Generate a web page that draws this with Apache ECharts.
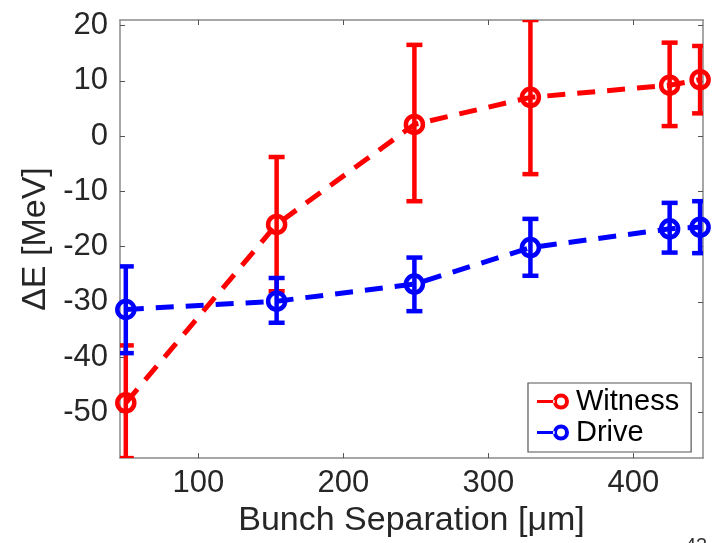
<!DOCTYPE html>
<html>
<head>
<meta charset="utf-8">
<script src="https://cdn.jsdelivr.net/npm/echarts@6/dist/echarts.min.js"></script>
<style>
html,body{margin:0;padding:0;background:#fff;}
#chart{width:713px;height:543px;}
</style>
</head>
<body>
<div id="chart"></div>
<script>
// Data
var separation = [50, 154, 249, 329, 425, 446];
var witness = [-48.3, -16.0, 2.1, 7.0, 9.2, 10.2];
var witnessLow = [-58.3, -28.1, -11.8, -6.9, 1.8, 4.1];
var witnessHigh = [-37.9, -3.8, 16.5, 21.0, 16.9, 16.3];
var drive = [-31.4, -29.9, -26.8, -20.2, -16.8, -16.5];
var driveLow = [-39.3, -33.8, -31.7, -25.3, -21.1, -21.2];
var driveHigh = [-23.6, -25.7, -22.0, -15.0, -12.1, -11.8];
var xTicks = [100, 200, 300, 400];
var yTicks = [-50, -40, -30, -20, -10, 0, 10, 20];

var FONT = '"Liberation Sans", Arial, Helvetica, sans-serif';
var TXT = '#262626';
var AX = '#8a8a8a';
var RED = '#ff0000';
var BLUE = '#0000ff';

function pairs(xs, ys) { return xs.map(function (x, i) { return [x, ys[i]]; }); }
function errData(xs, lo, hi) { return xs.map(function (x, i) { return [x, lo[i], hi[i]]; }); }

function errorRender(color) {
  return function (params, api) {
    var x = api.value(0);
    var lo = api.coord([x, api.value(1)]);
    var hi = api.coord([x, api.value(2)]);
    var hw = 8;
    var st = { stroke: color, lineWidth: 4.5 };
    return {
      type: 'group',
      children: [
        { type: 'line', shape: { x1: lo[0], y1: lo[1], x2: hi[0], y2: hi[1] }, style: st },
        { type: 'line', shape: { x1: lo[0] - hw, y1: lo[1], x2: lo[0] + hw, y2: lo[1] }, style: st },
        { type: 'line', shape: { x1: hi[0] - hw, y1: hi[1], x2: hi[0] + hw, y2: hi[1] }, style: st }
      ]
    };
  };
}

var legendIcon = 'path://M0,8.2 L22,8.2 L22,11.8 L0,11.8 Z M20,10 a10,10 0 1,0 20,0 a10,10 0 1,0 -20,0 Z M25,10 a5,5 0 1,1 10,0 a5,5 0 1,1 -10,0 Z';

function axisBase(extra) {
  return Object.assign({
    type: 'value',
    axisLine: { show: true, onZero: false, lineStyle: { color: AX, width: 1.5 } },
    splitLine: { show: false }
  }, extra);
}
function ticks(vals) {
  return { show: true, inside: true, length: 5, customValues: vals, lineStyle: { color: '#555', width: 1 } };
}

var chart = echarts.init(document.getElementById('chart'), null, { renderer: 'canvas' });
chart.setOption({
  backgroundColor: '#ffffff',
  animation: false,
  grid: { left: 120, right: 10, top: 20, bottom: 80, containLabel: false },
  xAxis: [
    axisBase({
      position: 'bottom', min: 46, max: 448,
      axisTick: ticks(xTicks),
      axisLabel: { customValues: xTicks, color: TXT, fontSize: 31, fontFamily: FONT, margin: 10 },
      name: 'Bunch Separation [\u03bcm]', nameLocation: 'middle', nameGap: 45,
      nameTextStyle: { color: TXT, fontSize: 34, fontFamily: FONT }
    }),
    axisBase({
      position: 'top', min: 46, max: 448,
      axisTick: ticks(xTicks),
      axisLabel: { show: false }
    })
  ],
  yAxis: [
    axisBase({
      position: 'left', min: -58.3, max: 21,
      axisTick: ticks(yTicks),
      axisLabel: { customValues: yTicks, color: TXT, fontSize: 31, fontFamily: FONT, margin: 12 },
      name: '\u0394E [MeV]', nameLocation: 'middle', nameGap: 65, nameRotate: 90,
      nameTextStyle: { color: TXT, fontSize: 34, fontFamily: FONT }
    }),
    axisBase({
      position: 'right', min: -58.3, max: 21,
      axisTick: ticks(yTicks),
      axisLabel: { show: false }
    })
  ],
  legend: {
    orient: 'vertical',
    left: 528, top: 383,
    backgroundColor: '#fff',
    borderColor: '#555', borderWidth: 1.2, borderRadius: 0,
    padding: [4, 12, 5, 9],
    itemGap: 2,
    itemWidth: 32, itemHeight: 16,
    textStyle: { fontSize: 29, fontFamily: FONT, color: '#000', padding: [0, 0, 0, 2] },
    data: [
      { name: 'Witness', icon: legendIcon, itemStyle: { color: RED, borderWidth: 0 } },
      { name: 'Drive', icon: legendIcon, itemStyle: { color: BLUE, borderWidth: 0 } }
    ]
  },
  series: [
    {
      name: 'Witness', type: 'custom', renderItem: errorRender(RED),
      data: errData(separation, witnessLow, witnessHigh), z: 2, clip: true, silent: true
    },
    {
      name: 'Drive', type: 'custom', renderItem: errorRender(BLUE),
      data: errData(separation, driveLow, driveHigh), z: 2, clip: true, silent: true
    },
    {
      name: 'Witness', type: 'line', data: pairs(separation, witness), z: 3,
      lineStyle: { color: RED, width: 5, type: [18, 12] },
      symbol: 'circle', symbolSize: 17,
      itemStyle: { color: 'rgba(0,0,0,0)', borderColor: RED, borderWidth: 4.5 }
    },
    {
      name: 'Drive', type: 'line', data: pairs(separation, drive), z: 3,
      lineStyle: { color: BLUE, width: 5, type: [18, 12] },
      symbol: 'circle', symbolSize: 17,
      itemStyle: { color: 'rgba(0,0,0,0)', borderColor: BLUE, borderWidth: 4.5 }
    }
  ],
  graphic: [
    { type: 'text', left: 685, top: 536, style: { text: '43', fontSize: 20, fontFamily: FONT, fill: '#333' } }
  ]
});
</script>
</body>
</html>
